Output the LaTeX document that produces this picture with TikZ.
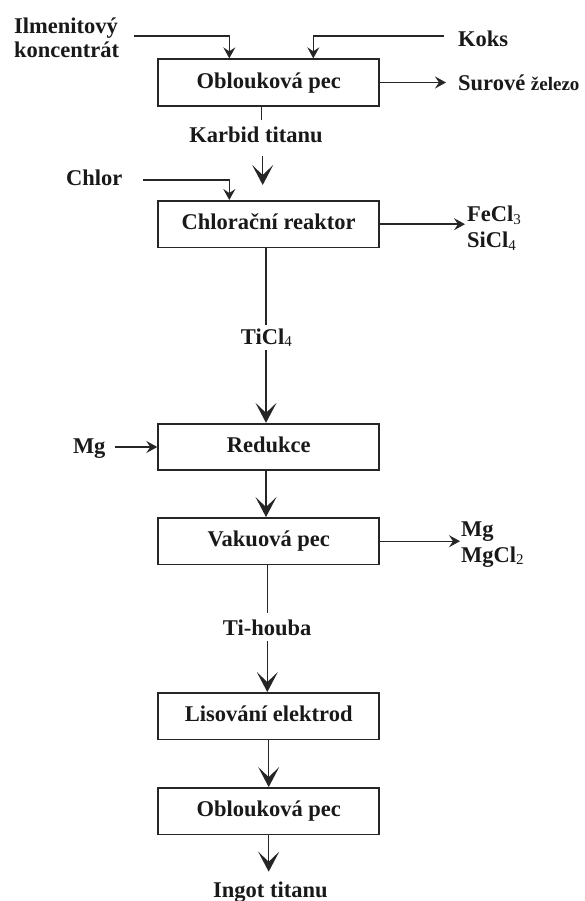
\documentclass[tikz,border=0pt]{standalone}
\usepackage{fontspec}
\setmainfont{Liberation Serif}
\usetikzlibrary{arrows.meta}
\newcommand{\lowsub}[1]{\raisebox{-2.8pt}{\fontsize{15}{15}\selectfont\mdseries #1}}
\begin{document}
\begin{tikzpicture}[x=1pt,y=-1pt,
  every node/.style={font=\bfseries\fontsize{22.5}{25}\selectfont, inner sep=0pt, text=black!90},
  box/.style={draw=black!85, line width=1.8pt, minimum width=221pt, minimum height=46.5pt, text height=11.5pt, text depth=0pt},
  lbl/.style={anchor=base west},
  conn/.style={draw=black!85, line width=1.4pt},
  big/.style={conn, -{Stealth[length=20pt,width=21pt,inset=10pt]}},
  small/.style={conn, -{Stealth[length=11pt,width=12pt,inset=4pt]}}]
\useasboundingbox (0,0) rectangle (585,901);

% process boxes
\node[box] (b1) at (268.7,82.5) {Oblouková pec};
\node[box] (b2) at (268.7,224.2) {Chlorační reaktor};
\node[box] (b3) at (268.7,447) {Redukce};
\node[box] (b4) at (268.7,541.2) {Vakuová pec};
\node[box] (b5) at (268.7,716.2) {Lisování elektrod};
\node[box] (b6) at (268.7,811.2) {Oblouková pec};

% labels
\node[lbl] (ilm1) at (14,33.3) {Ilmenitový};
\node[lbl] (ilm2) at (14,57.3) {koncentrát};
\node[lbl] (koks) at (458,46.7) {Koks};
\node[lbl] (surove) at (458,90.7) {Surové {\fontsize{19}{20}\selectfont železo}};
\node[anchor=base] (karbid) at (256,142.7) {Karbid titanu};
\node[lbl] (chlor) at (66,186) {Chlor};
\node[lbl] (fecl) at (467,221.5) {FeCl\lowsub{3}};
\node[lbl] (sicl) at (467,247.5) {SiCl\lowsub{4}};
\node[lbl] (ticl) at (240.7,344) {TiCl\lowsub{4}};
\node[lbl] (mgl) at (72.8,453.3) {Mg};
\node[lbl] (mgr) at (461,536) {Mg};
\node[lbl] (mgcl) at (461,562) {MgCl\lowsub{2}};
\node[lbl] (tih) at (222.7,635) {Ti-houba};
\node[lbl] (ingot) at (213,897.7) {Ingot titanu};

% free ends
\coordinate (ilmS) at (134,36);
\coordinate (koksS) at (444,36);
\coordinate (surT) at (446,83);
\coordinate (kA) at (262.7,156);
\coordinate (kB) at (262.7,185);
\coordinate (chS) at (143,180);
\coordinate (feT) at (465,223.3);
\coordinate (t1) at (266,325);
\coordinate (t2) at (266,350);
\coordinate (mgS) at (115,446);
\coordinate (mgT) at (460,540);
\coordinate (h1) at (267.3,613.3);
\coordinate (h2) at (267.3,640.7);
\coordinate (inT) at (268.7,871.7);

% connectors
\draw[small] (ilmS) -| ([xshift=-39.4pt]b1.north);
\draw[small] (koksS) -| ([xshift=44.6pt]b1.north);
\draw[small] (b1.east) -- (b1.east -| surT);
\draw[conn] ([xshift=-7pt]b1.south) -- ++(0,13.3);
\draw[big] (kA) -- (kB);
\draw[small] (chS) -| ([xshift=-39.4pt]b2.north);
\draw[small] (b2.east) -- (b2.east -| feT);
\draw[conn] ([xshift=-2.7pt]b2.south) -- (t1);
\draw[big] (t2) -- ([xshift=-2.7pt]b3.north);
\draw[small] (mgS |- b3.west) -- (b3.west);
\draw[big] ([xshift=-2.7pt]b3.south) -- ([xshift=-2.7pt]b4.north);
\draw[small] (b4.east) -- (b4.east -| mgT);
\draw[conn] ([xshift=-1.4pt]b4.south) -- (h1);
\draw[big] (h2) -- ([xshift=-1.4pt]b5.north);
\draw[big] (b5.south) -- (b6.north);
\draw[big] (b6.south) -- (inT);
\end{tikzpicture}
\end{document}
